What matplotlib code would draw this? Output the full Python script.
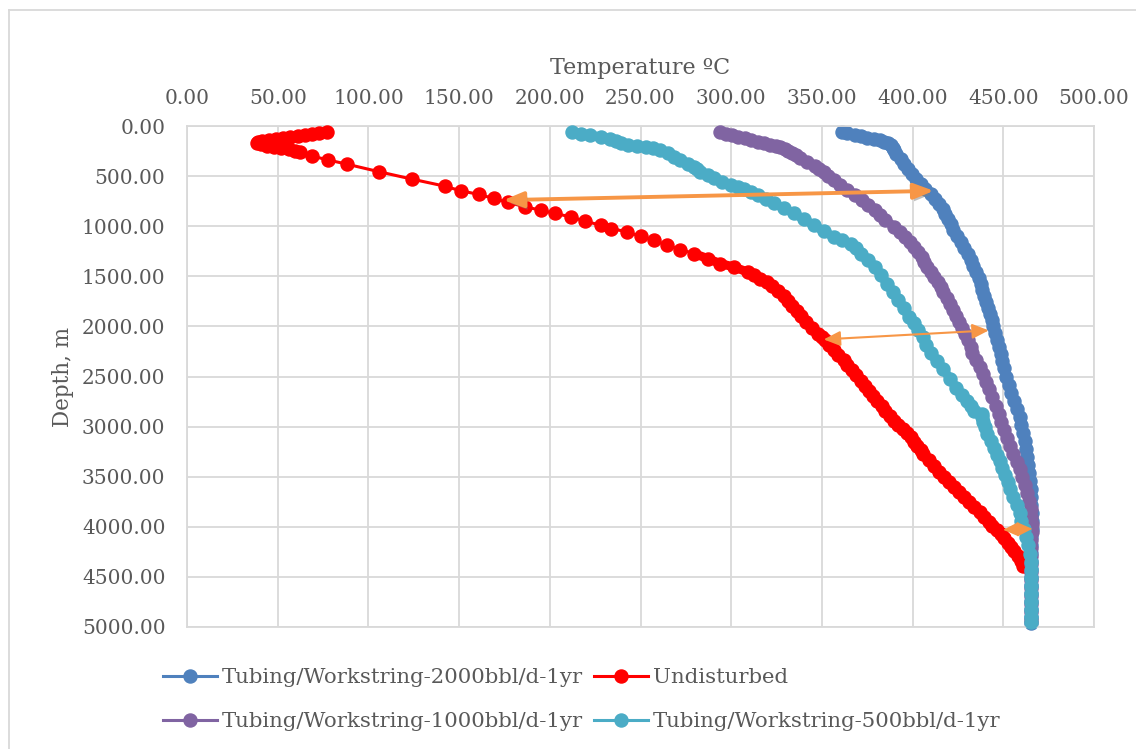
import matplotlib
matplotlib.use("Agg")
import matplotlib.pyplot as plt
from matplotlib.patches import FancyArrowPatch
from matplotlib.lines import Line2D
import matplotlib.patheffects as pe

plt.rcParams['font.family'] = ['DejaVu Serif']

# Tubing/Workstring-2000bbl/d-1yr
blue_depth = [57, 70, 85, 100, 115, 128, 140, 155, 170, 190, 215, 240, 280, 330, 380, 430,
              480, 530, 580, 630, 680, 730, 780, 830, 880, 930, 980, 1040, 1100, 1160, 1220,
              1280, 1340, 1400, 1460, 1520, 1580, 1640, 1700, 1760, 1820, 1880, 1940, 2000,
              2070, 2140, 2210, 2280, 2350, 2420, 2500, 2580, 2660, 2740, 2820, 2900, 2980,
              3060, 3140, 3220, 3300, 3380, 3460, 3540, 3620, 3700, 3780, 3860, 3940, 4020,
              4100, 4180, 4260, 4340, 4420, 4500, 4580, 4660, 4740, 4820, 4900, 4960]
blue_temp = [361, 364, 368, 371.5, 375, 378.5, 382, 384.5, 386.5, 388, 389, 390, 391, 393.5,
             395.5, 397.5, 399.5, 402, 404.5, 407, 410, 412.5, 414.5, 416.5, 418, 419.5, 421,
             422.5, 424.5, 426.5, 428.5, 430.5, 432, 433.5, 435, 436.5, 437.5, 438.5, 439.5,
             440.5, 441.5, 442.5, 443.5, 444.5, 445.5, 446.5, 447.5, 448.5, 449.5, 450.5,
             451.5, 453, 454.5, 456, 457.5, 459, 460, 461, 462, 462.5, 463, 463.5, 464, 464.5,
             465, 465.5, 465.5, 466, 466, 466, 465.5, 465.5, 465, 465, 465, 465, 465, 465,
             465, 465, 465, 465]

# Undisturbed
red_depth = [57, 66, 76, 86, 96, 106, 116, 126, 137, 148, 160, 172, 184, 196, 208, 220, 232,
             246, 260, 300, 340, 380, 457, 530, 600, 647, 683, 723, 763, 807, 840, 873, 907,
             950, 990, 1023, 1057, 1100, 1140, 1190, 1233, 1273, 1323, 1373, 1407, 1457, 1490,
             1523, 1560, 1600, 1650, 1700, 1750, 1800, 1850, 1900, 1957, 2015, 2073,
             2110, 2140, 2190, 2240, 2290, 2340, 2390, 2440, 2490, 2540, 2590, 2640, 2690,
             2740, 2790, 2840, 2890, 2940, 2985, 3025, 3065, 3107, 3150, 3190, 3230, 3273,
             3330, 3390, 3450, 3507, 3557, 3607, 3657, 3707, 3757, 3807, 3857, 3907, 3950,
             3990, 4030, 4073, 4115, 4160, 4200, 4240, 4290, 4340, 4390]
red_temp = [77, 73, 69, 65, 61, 57, 53, 49, 45, 41.5, 39, 38.5, 41, 44, 48, 52, 56, 59.5, 62.5,
            69, 78, 88, 106, 124, 142, 151, 161, 169, 177, 186.5, 195, 203, 211.5, 219.5, 228,
            234, 242.5, 250, 257.5, 264.5, 272, 279.5, 287, 294, 301.5, 309, 312.5, 316,
            319.5, 322.5, 326, 329, 331.5, 333.5, 336, 338.5, 341, 344.5, 348, 350, 351.5,
            354, 356.5, 359, 362, 364, 366.5, 369, 371.5, 374, 376, 378, 380.5, 383, 385, 387.5,
            390, 392, 394.5, 397, 399, 401, 402.5, 404.5, 406, 409, 412, 414.5, 417.5, 420,
            423, 425.5, 428.5, 431, 434, 437, 439.5, 442, 444, 446.5, 448.5, 450.5, 452.5,
            454.5, 456, 458, 460, 461]

# Tubing/Workstring-1000bbl/d-1yr
purple_depth = [63, 75, 90, 105, 120, 138, 157, 172, 185, 197, 207, 225, 245, 265, 290, 323,
                360, 400, 430, 457, 500, 540, 590, 640, 690, 740, 790, 840, 890, 940, 1007,
                1060, 1110, 1160, 1207, 1260, 1310, 1360, 1407, 1460, 1510, 1560, 1607, 1660,
                1720, 1780, 1840, 1900, 1960, 2020, 2080, 2140, 2210, 2270, 2340, 2410, 2480,
                2550, 2620, 2700, 2790, 2870, 2950, 3030, 3110, 3190, 3270, 3350, 3420, 3500,
                3580, 3660, 3740, 3820, 3900, 3970, 4050, 4130, 4210, 4290, 4370, 4450, 4530,
                4610, 4690, 4770, 4850, 4930]
purple_temp = [294, 297, 300.5, 304, 307.5, 311, 314.5, 318, 321.5, 324.5, 327, 329.5, 331.5,
               333.5, 335.5, 338, 342, 346, 348.5, 351, 353.5, 356.5, 360, 364, 368, 372,
               375.5, 379, 382, 385, 390, 393, 396, 398.5, 401, 403, 405, 406.5, 408, 410,
               412, 414, 415.5, 417, 419, 420.5, 422, 424, 425.5, 427.5, 429, 430.5, 432, 433,
               435, 437, 439, 440.5, 442, 444, 446, 447.5, 449, 450.5, 452, 453.5, 455.5,
               457.5, 459, 460.5, 462, 463, 464, 465, 465.5, 466, 466, 465.5, 465.5, 465,
               465, 465, 465, 465, 465, 465, 465, 465]

# Tubing/Workstring-500bbl/d-1yr
cyan_depth = [60, 75, 90, 110, 130, 150, 173, 190, 200, 207, 215, 240, 273, 305, 340, 375,
              407, 430, 457, 490, 523, 555, 590, 610, 633, 660, 690, 730, 773, 820, 873, 930,
              990, 1050, 1107, 1140, 1173, 1220, 1273, 1340, 1407, 1490, 1573, 1660, 1740,
              1820, 1907, 1970, 2040, 2110, 2190, 2270, 2350, 2430, 2520, 2610, 2680, 2740,
              2790, 2840, 2870, 2900, 2950, 3000, 3070, 3140, 3210, 3280, 3340, 3410, 3480,
              3550, 3620, 3700, 3780, 3860, 3940, 4020, 4100, 4180, 4270, 4350, 4430, 4510,
              4590, 4670, 4750, 4830, 4900, 4950]
cyan_temp = [212.5, 217, 222, 228, 233, 236.5, 239, 243, 248, 253, 257, 261, 265, 268.5, 272,
             276, 279.5, 281, 283, 287, 290.5, 295, 300, 303.5, 307, 311, 314.5, 319, 323.5,
             329, 334.5, 340, 345.5, 351, 356.5, 361, 366, 369, 371.5, 375.5, 379, 382.5,
             386, 389, 392, 395, 398, 400.5, 403, 405.5, 407.5, 410, 413.5, 417, 420.5, 424,
             427, 430, 432, 434, 438, 438.5, 439, 440, 441, 443, 445, 446.5, 448, 449.5, 451,
             452.5, 453.5, 455.5, 457.5, 459, 460, 461.5, 462.5, 463.5, 464.5, 465, 465, 465,
             465, 465, 465, 465, 465, 465]

# (name, temps, depths, colour, index where the markers start to overlap into a band)
series = [
    ("Tubing/Workstring-2000bbl/d-1yr", blue_temp, blue_depth, "#4F81BD", 0),
    ("Undisturbed", red_temp, red_depth, "#FF0000", 41),
    ("Tubing/Workstring-1000bbl/d-1yr", purple_temp, purple_depth, "#8064A2", 0),
    ("Tubing/Workstring-500bbl/d-1yr", cyan_temp, cyan_depth, "#4BACC6", 0),
]

x_ticks = [0, 50, 100, 150, 200, 250, 300, 350, 400, 450, 500]
y_ticks = [0, 500, 1000, 1500, 2000, 2500, 3000, 3500, 4000, 4500, 5000]

W, H = 1136, 749
fig = plt.figure(figsize=(W / 100, H / 100), dpi=100)
ax = fig.add_axes([187 / W, 1 - 627 / H, (1094 - 187) / W, (627 - 126) / H])

text_color = "#595959"
grid_color = "#D9D9D9"

lines = {}
for i, (name, t, d, c, dense) in enumerate(series):
    z = 2 + i
    # thick underlay where the markers merge into a band
    ax.plot(t[dense:], d[dense:], color=c, lw=6.5, solid_capstyle="round",
            solid_joinstyle="round", zorder=z, clip_on=False)
    ln, = ax.plot(t, d, color=c, lw=2.2, marker="o", markersize=9.4,
                  markeredgecolor=c, markerfacecolor=c, label=name, clip_on=False,
                  zorder=z)
    lines[name] = ln

ax.set_xlim(0, 500)
ax.set_ylim(5000, 0)
ax.set_xticks(x_ticks)
ax.set_yticks(y_ticks)
ax.xaxis.tick_top()
ax.xaxis.set_label_position("top")
ax.xaxis.set_major_formatter(matplotlib.ticker.FormatStrFormatter("%.2f"))
ax.yaxis.set_major_formatter(matplotlib.ticker.FormatStrFormatter("%.2f"))
ax.tick_params(axis="x", length=0, pad=13, labelsize=14.5, labelcolor=text_color)
ax.tick_params(axis="y", length=0, pad=15.5, labelsize=14.5, labelcolor=text_color)
ax.grid(True, color=grid_color, lw=1.3)
ax.set_axisbelow(True)
for s in ax.spines.values():
    s.set_color(grid_color)
    s.set_linewidth(1.3)

ax.set_xlabel("Temperature ºC", fontsize=16, color=text_color, labelpad=11)
ax.set_ylabel("Depth, m", fontsize=15.5, color=text_color, labelpad=6)

# arrows
orange = "#F79646"
big = FancyArrowPatch((174.4, 740), (411.7, 647), arrowstyle="<|-|>,head_length=1.2,head_width=0.47",
                      mutation_scale=10, color=orange, lw=2.8, shrinkA=0, shrinkB=0, zorder=8,
                      path_effects=[pe.SimplePatchShadow(offset=(1.5, -2.5), shadow_rgbFace="#7f7f7f", alpha=0.5),
                                    pe.Normal()])
ax.add_patch(big)
mid = FancyArrowPatch((351, 2130), (442, 2040), arrowstyle="<|-|>,head_length=1.0,head_width=0.45",
                      mutation_scale=10, color=orange, lw=1.5, shrinkA=0, shrinkB=0, zorder=8)
ax.add_patch(mid)
small = FancyArrowPatch((450, 4030), (466, 4020), arrowstyle="<|-|>,head_length=0.95,head_width=0.45",
                        mutation_scale=10, color=orange, lw=1.0, shrinkA=0, shrinkB=0, zorder=8)
ax.add_patch(small)

# legend
order = ["Tubing/Workstring-2000bbl/d-1yr", "Tubing/Workstring-1000bbl/d-1yr",
         "Undisturbed", "Tubing/Workstring-500bbl/d-1yr"]
fig.legend([lines[n] for n in order], order, ncol=2, loc="upper left",
           bbox_to_anchor=(163 / W, 1 - 668 / H), frameon=False, fontsize=15.3,
           handlelength=2.54, handletextpad=0.24, columnspacing=0.5, labelspacing=1.18,
           borderpad=0, borderaxespad=0, labelcolor=text_color)

# chart area border
fig.add_artist(Line2D([9 / W, 9 / W], [0, 1 - 10 / H], transform=fig.transFigure, color=grid_color, lw=1.3))
fig.add_artist(Line2D([9 / W, 1], [1 - 10 / H, 1 - 10 / H], transform=fig.transFigure, color=grid_color, lw=1.3))

fig.savefig("out.png", dpi=100)
